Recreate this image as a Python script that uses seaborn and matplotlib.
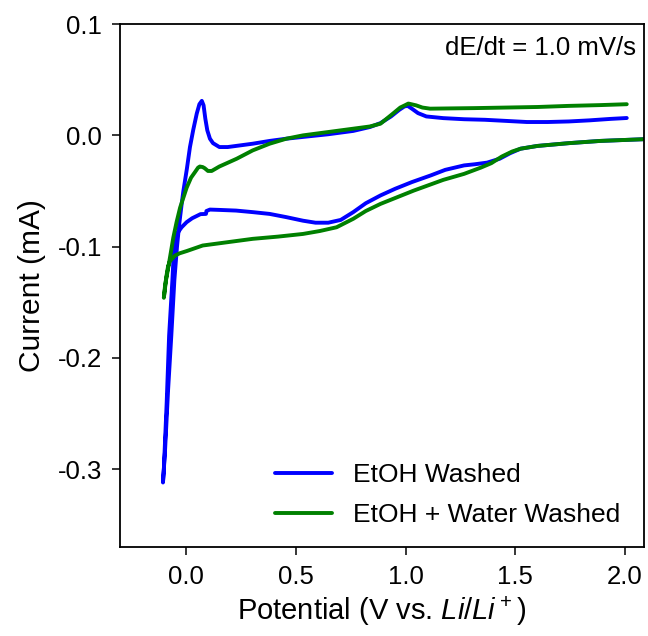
import numpy as np
import pandas as pd
import matplotlib
matplotlib.use("Agg")
import matplotlib.pyplot as plt
import seaborn as sns

# ---- data ----
etoh_E = [2.15, 2.08, 1.887, 1.744, 1.601, 1.524, 1.477, 1.429, 1.372, 1.315, 1.267, 1.181,
          1.115, 1.029, 0.953, 0.886, 0.819, 0.762, 0.705, 0.648, 0.590, 0.533, 0.457, 0.381,
          0.304, 0.228, 0.152, 0.109, 0.093, 0.091, 0.066, 0.028, 0.003, -0.020, -0.042,
          -0.053, -0.062, -0.077, -0.088, -0.101, -0.105,
          -0.096, -0.082, -0.067, -0.053, -0.041, -0.031, -0.020, -0.012, 0.004, 0.018, 0.033,
          0.049, 0.061, 0.072, 0.080, 0.088, 0.097, 0.109, 0.123, 0.152, 0.190, 0.247, 0.304,
          0.381, 0.457, 0.552, 0.648, 0.762, 0.838, 0.886, 0.934, 0.972, 0.995, 1.010, 1.029,
          1.057, 1.095, 1.172, 1.267, 1.362, 1.458, 1.553, 1.648, 1.744, 1.839, 1.934, 2.008]
etoh_I = [-0.002, -0.0035, -0.005, -0.007, -0.0095, -0.012, -0.016, -0.021, -0.0245, -0.026,
          -0.027, -0.031, -0.036, -0.042, -0.048, -0.054, -0.061, -0.069, -0.076, -0.0785,
          -0.0785, -0.0767, -0.0735, -0.0706, -0.069, -0.0676, -0.067, -0.0667, -0.068,
          -0.0706, -0.0708, -0.0745, -0.078, -0.0826, -0.0886, -0.095, -0.13, -0.18, -0.24,
          -0.30, -0.312,
          -0.285, -0.23, -0.18, -0.13, -0.10, -0.08, -0.062, -0.050, -0.030, -0.0105, 0.005,
          0.0196, 0.028, 0.031, 0.027, 0.015, 0.0045, -0.003, -0.007, -0.0105, -0.0105, -0.009,
          -0.0075, -0.005, -0.003, -0.001, 0.001, 0.004, 0.0075, 0.011, 0.017, 0.023, 0.026,
          0.0265, 0.024, 0.020, 0.017, 0.0155, 0.0145, 0.014, 0.013, 0.012, 0.012, 0.0125,
          0.0135, 0.0148, 0.0156]

water_E = [2.15, 2.08, 1.887, 1.744, 1.601, 1.524, 1.486, 1.439, 1.391, 1.343, 1.267, 1.172,
           1.038, 0.886, 0.819, 0.762, 0.686, 0.609, 0.533, 0.419, 0.304, 0.190, 0.076, 0.003,
           -0.029, -0.050, -0.073, -0.082, -0.088, -0.096, -0.101,
           -0.091, -0.081, -0.069, -0.058, -0.043, -0.027, 0.003, 0.023, 0.041, 0.055, 0.063,
           0.076, 0.085, 0.100, 0.117, 0.152, 0.231, 0.304, 0.381, 0.457, 0.533, 0.648, 0.762,
           0.838, 0.886, 0.943, 0.976, 0.997, 1.013, 1.048, 1.077, 1.112, 1.191, 1.315, 1.458,
           1.601, 1.744, 1.887, 2.008]
water_I = [-0.002, -0.0035, -0.005, -0.007, -0.0095, -0.012, -0.0145, -0.019, -0.025, -0.029,
           -0.0346, -0.040, -0.0496, -0.0616, -0.068, -0.075, -0.0826, -0.086, -0.0886, -0.091,
           -0.093, -0.096, -0.099, -0.104, -0.106, -0.108, -0.113, -0.118, -0.125, -0.136,
           -0.146,
           -0.13, -0.119, -0.105, -0.092, -0.078, -0.065, -0.047, -0.038, -0.033, -0.029,
           -0.028, -0.0285, -0.0295, -0.032, -0.032, -0.028, -0.021, -0.0135, -0.0075, -0.003,
           0.0, 0.003, 0.006, 0.008, 0.0105, 0.0196, 0.025, 0.027, 0.0286, 0.027, 0.025, 0.024,
           0.0242, 0.0245, 0.025, 0.0255, 0.0265, 0.0272, 0.028]

labels = ["EtOH Washed", "EtOH + Water Washed"]
colors = ["#0000ff", "#008000"]
x_ticks = [0.0, 0.5, 1.0, 1.5, 2.0]
y_ticks = [-0.3, -0.2, -0.1, 0.0, 0.1]
y_ticklabels = ["-0.3", "-0.2", "-0.1", "0.0", "0.1"]

df = pd.concat([
    pd.DataFrame({"E": etoh_E, "I": etoh_I, "sample": labels[0]}),
    pd.DataFrame({"E": water_E, "I": water_I, "sample": labels[1]}),
], ignore_index=True)

sns.set_style("ticks")
plt.rcParams["font.family"] = ["Liberation Sans", "DejaVu Sans"]
plt.rcParams["mathtext.fontset"] = "custom"
plt.rcParams["mathtext.rm"] = "Liberation Sans"
plt.rcParams["mathtext.it"] = "Liberation Sans:italic"
plt.rcParams["text.color"] = "black"
plt.rcParams["axes.labelcolor"] = "black"
plt.rcParams["xtick.color"] = "black"
plt.rcParams["ytick.color"] = "black"

fig = plt.figure(figsize=(6.48, 6.36), dpi=100)
ax = fig.add_axes([0.1852, 0.1399, 0.8086, 0.8222])

sns.lineplot(data=df, x="E", y="I", hue="sample", palette=dict(zip(labels, colors)),
             sort=False, estimator=None, linewidth=2.8, ax=ax)

ax.set_xlim(-0.3007, 2.0865)
ax.set_ylim(-0.370, 0.1)
ax.set_xticks(x_ticks)
ax.set_xticklabels([f"{t:.1f}" for t in x_ticks])
ax.set_yticks(y_ticks)
ax.set_yticklabels(y_ticklabels)
ax.tick_params(axis="both", labelsize=18.5, length=6, width=1.1, direction="out", pad=7,
               colors="black")
for s in ax.spines.values():
    s.set_linewidth(1.3)
    s.set_color("black")

ax.set_xlabel(r"Potential (V vs. $Li/Li^+$)", fontsize=21, labelpad=4)
ax.set_ylabel("Current (mA)", fontsize=21.5, labelpad=8)

ax.text(0.984, 0.978, "dE/dt = 1.0 mV/s", transform=ax.transAxes, ha="right", va="top",
        fontsize=18.5)

leg = ax.legend(loc="lower right", frameon=False, fontsize=19, handlelength=2.15,
                handletextpad=0.8, bbox_to_anchor=(1.0, -0.008), labelspacing=0.62)
for h in leg.get_lines():
    h.set_linewidth(2.8)

fig.savefig("out.png", dpi=100)
